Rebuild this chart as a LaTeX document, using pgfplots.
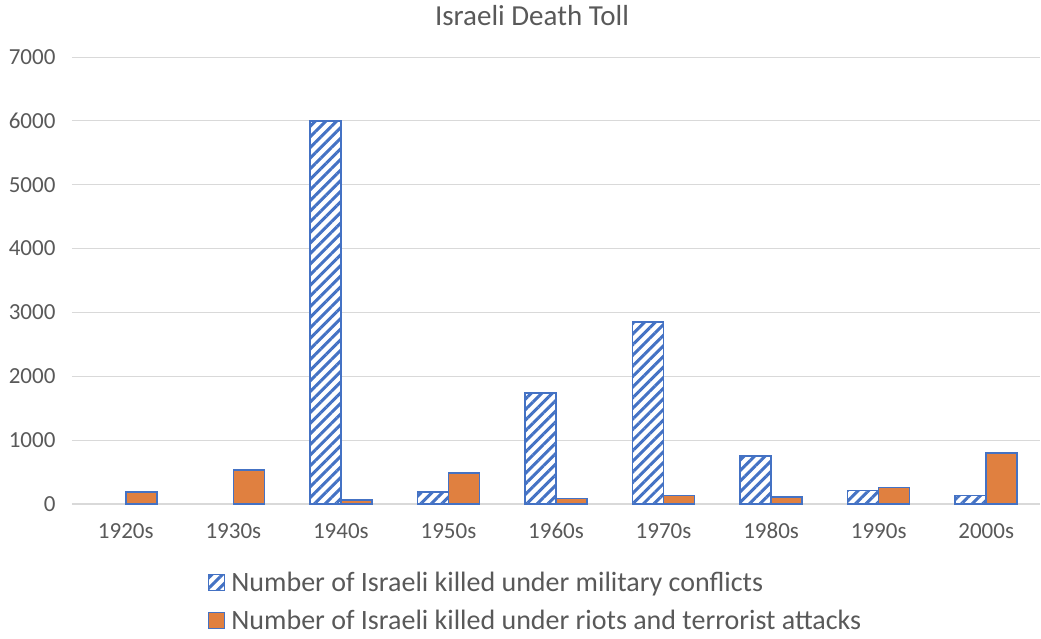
\documentclass[border=0pt]{standalone}
\usepackage{fontspec}
\setmainfont{Carlito}
\usepackage{pgfplots}
\pgfplotsset{compat=1.18}
\usetikzlibrary{patterns.meta}

\definecolor{barblue}{RGB}{68,114,196}
\definecolor{barorange}{RGB}{224,128,64}
\definecolor{txtgray}{RGB}{89,89,89}
\definecolor{gridgray}{RGB}{217,217,217}

\begin{document}
\begin{tikzpicture}
\begin{axis}[
  name=ax,
  scale only axis,
  width=968pt, height=447pt,
  xmin=-0.5, xmax=8.5,
  ymin=0, ymax=7000,
  ybar=0pt, bar width=31pt,
  xtick={0,...,8},
  xticklabels={1920s,1930s,1940s,1950s,1960s,1970s,1980s,1990s,2000s},
  ytick={0,1000,...,7000},
  scaled y ticks=false,
  /pgf/number format/assume math mode=true,
  /pgf/number format/1000 sep={},
  ymajorgrids,
  grid style={gridgray, line width=1pt},
  axis x line*=bottom, axis y line*=left,
  x axis line style={-, draw=gridgray, line width=1.5pt},
  y axis line style={draw=none},
  major tick length=0pt,
  tick style={draw=none},
  ticklabel style={font=\fontsize{23}{27}\selectfont, text=txtgray},
  yticklabel style={xshift=-13pt},
  xticklabel style={text height=15pt, text depth=0pt, yshift=-16pt},
  legend style={at={(axis description cs:0.1405,-0.148)}, anchor=north west,
    draw=none, fill=none, font=\fontsize{28}{33}\selectfont, text=txtgray,
    row sep=13pt, column sep=4pt, inner sep=0pt},
  legend cell align=left,
  legend image code/.code={\draw[#1, line width=1.2pt] (0pt,-8pt) rectangle (16pt,8pt);},
]
\addplot[draw=barblue, line width=1.5pt, fill=white,
  postaction={pattern={Lines[angle=45, distance=7.5pt, line width=3pt]}, pattern color=barblue}]
  coordinates {(2,6000) (3,188) (4,1740) (5,2850) (6,755) (7,210) (8,130)};
\addlegendentry{Number of Israeli killed under military conflicts}
\addplot[draw=barblue, line width=1.5pt, fill=barorange]
  coordinates {(0,185) (1,530) (2,60) (3,482) (4,85) (5,130) (6,110) (7,255) (8,800)};
\addlegendentry{Number of Israeli killed under riots and terrorist attacks}
\end{axis}
\node[font=\fontsize{29}{34}\selectfont, text=txtgray] at ([xshift=-24pt,yshift=41pt]ax.north) {Israeli Death Toll};
\pgfresetboundingbox
\path ([xshift=-72pt,yshift=-134pt]ax.south west) rectangle ++(1041pt,638pt);
\end{tikzpicture}
\end{document}
